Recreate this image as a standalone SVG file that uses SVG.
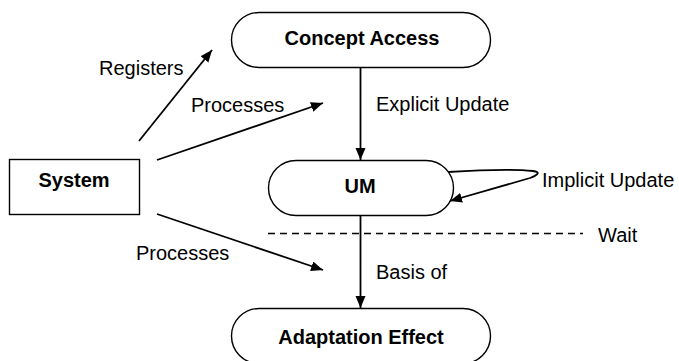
<svg xmlns="http://www.w3.org/2000/svg" width="679" height="361" viewBox="0 0 679 361">
  <style>
    .node { fill: #fff; stroke: #000; stroke-width: 1.4; }
    .title { font-family: "Liberation Sans", Arial, sans-serif; font-size: 20px; font-weight: bold; fill: #000; text-anchor: middle; }
    .label { font-family: "Liberation Sans", Arial, sans-serif; font-size: 20px; fill: #000; }
    .edge { fill: none; stroke: #000; stroke-width: 1.8; }
    .dashed { fill: none; stroke: #000; stroke-width: 1.4; stroke-dasharray: 7 5; }
  </style>
  <defs>
    <marker id="arrow" markerUnits="userSpaceOnUse" markerWidth="13" markerHeight="11" refX="12" refY="5" orient="auto">
      <path d="M0,0 L12,5 L0,10 z" fill="#000"/>
    </marker>
  </defs>
  <rect width="679" height="361" fill="#fff"/>

  <!-- connectors -->
  <g id="connectors">
    <line class="edge" x1="139" y1="141" x2="212" y2="50" marker-end="url(#arrow)"/>
    <line class="edge" x1="157" y1="160" x2="323" y2="103" marker-end="url(#arrow)"/>
    <line class="edge" x1="157" y1="214" x2="323" y2="270" marker-end="url(#arrow)"/>
    <line class="edge" x1="360.5" y1="67" x2="360.5" y2="160" marker-end="url(#arrow)"/>
    <line class="edge" x1="360.5" y1="215" x2="360.5" y2="308" marker-end="url(#arrow)"/>
    <path class="edge" d="M448,172 C480,170 515,169 533,171 C541,172 538,175 530,178 L450,201" marker-end="url(#arrow)"/>
    <line class="dashed" x1="268" y1="233.5" x2="583" y2="233.5"/>
  </g>

  <!-- connector labels -->
  <g id="labels">
    <text class="label" x="99" y="75">Registers</text>
    <text class="label" x="191" y="112">Processes</text>
    <text class="label" x="376" y="111">Explicit Update</text>
    <text class="label" x="542" y="187">Implicit Update</text>
    <text class="label" x="598" y="242">Wait</text>
    <text class="label" x="376" y="279">Basis of</text>
    <text class="label" x="136" y="260">Processes</text>
  </g>

  <!-- nodes -->
  <g id="system">
    <rect class="node" x="9.5" y="159.5" width="130" height="55"/>
    <text class="title" x="74" y="187">System</text>
  </g>
  <g id="concept-access">
    <rect class="node" x="231.5" y="12.5" width="259" height="55" rx="27.5" ry="27.5"/>
    <text class="title" x="362" y="45">Concept Access</text>
  </g>
  <g id="um">
    <rect class="node" x="268.5" y="160.5" width="185" height="55" rx="27.5" ry="27.5"/>
    <text class="title" x="360" y="193">UM</text>
  </g>
  <g id="adaptation-effect">
    <rect class="node" x="231.5" y="308.5" width="259" height="55" rx="27.5" ry="27.5"/>
    <text class="title" x="361" y="344">Adaptation Effect</text>
  </g>
</svg>
